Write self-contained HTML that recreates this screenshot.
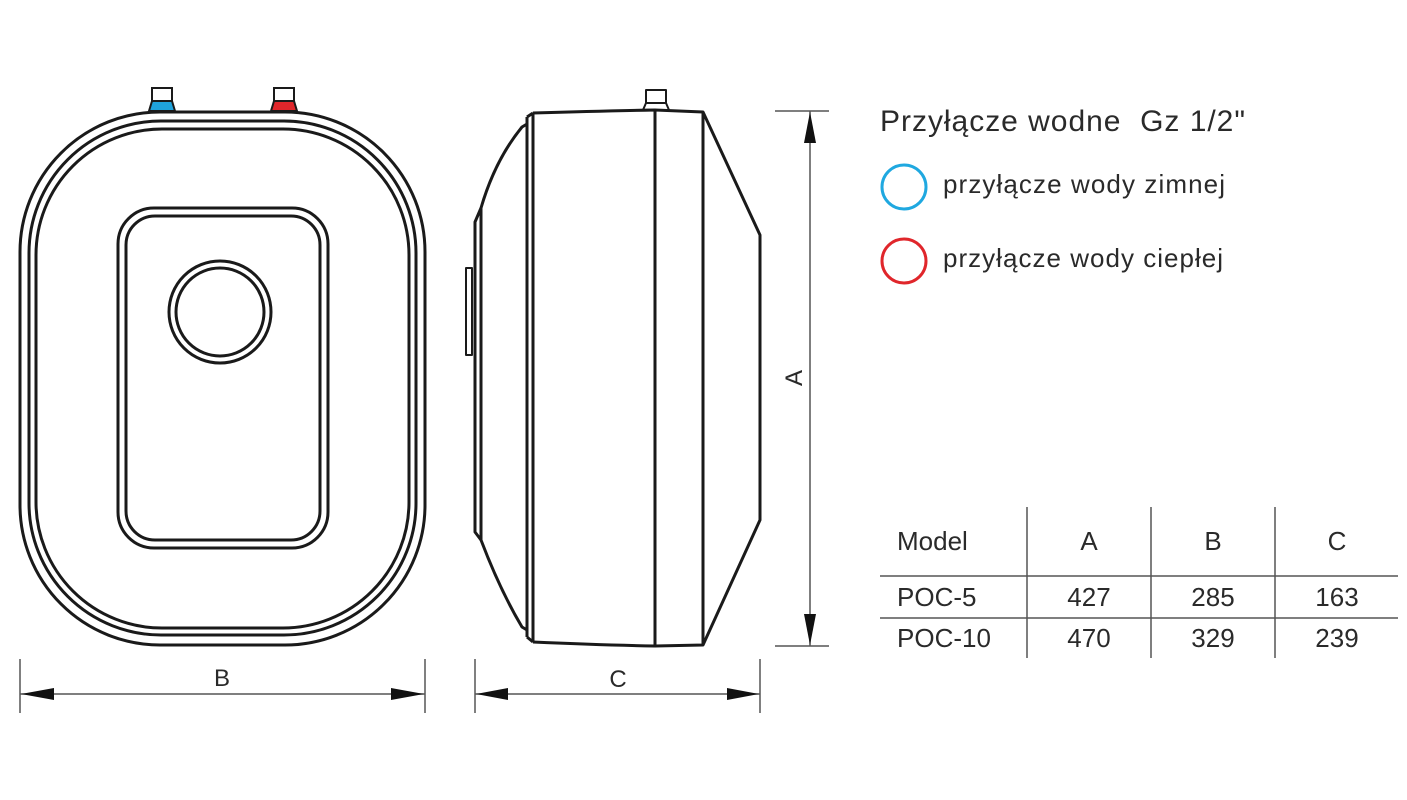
<!DOCTYPE html>
<html><head><meta charset="utf-8"><style>
html,body{margin:0;padding:0;background:#fff;}
svg{display:block;}
text{font-family:"Liberation Sans",sans-serif;fill:#2a2a2a;}
</style></head><body>
<svg width="1407" height="800" viewBox="0 0 1407 800" xmlns="http://www.w3.org/2000/svg">
<g fill="none" stroke="#1a1a1a" stroke-width="3">
  <rect x="20" y="112" width="405" height="533" rx="140" ry="140"/>
  <rect x="29" y="121" width="387" height="514" rx="132" ry="132"/>
  <rect x="36" y="129" width="373" height="499" rx="126" ry="126"/>
  <rect x="118" y="208" width="210" height="340" rx="36" ry="36"/>
  <rect x="126" y="216" width="194" height="324" rx="29" ry="29"/>
  <circle cx="220" cy="312" r="51"/>
  <circle cx="220" cy="312" r="44"/>
  <rect x="152" y="88" width="20" height="13" stroke-width="2"/>
  <rect x="274" y="88" width="20" height="13" stroke-width="2"/>
</g>
<path d="M149 111 L152 101 L172 101 L175 111 Z" fill="#1fa3dc" stroke="#1a1a1a" stroke-width="2"/>
<path d="M271 111 L274 101 L294 101 L297 111 Z" fill="#e0262b" stroke="#1a1a1a" stroke-width="2"/>

<g fill="none" stroke="#1a1a1a" stroke-width="3" stroke-linejoin="round">
  <rect x="646" y="90" width="20" height="13" stroke-width="2"/>
  <path d="M643 110 L646 103 L666 103 L669 110" stroke-width="2"/>
  <path d="M533 113 Q600 111 655 110 L703 112 L760 235 L760 520 L703 645 L655 646 Q600 645 533 642"/>
  <line x1="533" y1="113" x2="533" y2="642"/>
  <line x1="527" y1="117" x2="527" y2="637"/>
  <path d="M527 117 L533 113"/>
  <path d="M527 637 L533 642"/>
  <line x1="655" y1="110" x2="655" y2="646"/>
  <line x1="703" y1="112" x2="703" y2="645"/>
  <path d="M527 124 L522 127 Q495 160 481 208 L481 540 Q500 590 522 627 L527 630"/>
  <path d="M481 208 L475 222 L475 532 L481 540"/>
  <rect x="466" y="268" width="6" height="87" stroke-width="2"/>
</g>

<g stroke="#555" stroke-width="1.5" fill="none">
  <line x1="775" y1="111" x2="829" y2="111"/>
  <line x1="775" y1="646" x2="829" y2="646"/>
  <line x1="810" y1="111" x2="810" y2="646"/>
  <line x1="20" y1="659" x2="20" y2="713"/>
  <line x1="425" y1="659" x2="425" y2="713"/>
  <line x1="20" y1="694" x2="425" y2="694"/>
  <line x1="475" y1="659" x2="475" y2="713"/>
  <line x1="760" y1="659" x2="760" y2="713"/>
  <line x1="475" y1="694" x2="760" y2="694"/>
</g>
<g fill="#111">
  <path d="M810 112 L804 143 L816 143 Z"/>
  <path d="M810 645 L804 614 L816 614 Z"/>
  <path d="M21 694 L54 688 L54 700 Z"/>
  <path d="M424 694 L391 688 L391 700 Z"/>
  <path d="M476 694 L508 688 L508 700 Z"/>
  <path d="M759 694 L727 688 L727 700 Z"/>
</g>
<text x="222" y="686" font-size="24" text-anchor="middle">B</text>
<text x="618" y="687" font-size="24" text-anchor="middle">C</text>
<text x="802" y="378" font-size="24" text-anchor="middle" transform="rotate(-90 802 378)">A</text>

<text x="880" y="131" font-size="30" textLength="365" lengthAdjust="spacing" xml:space="preserve">Przyłącze wodne  Gz 1/2"</text>
<circle cx="904" cy="187" r="22" fill="none" stroke="#1fa8e0" stroke-width="3"/>
<circle cx="904" cy="261" r="22" fill="none" stroke="#e0262b" stroke-width="3"/>
<text x="943" y="193" font-size="26" textLength="282" lengthAdjust="spacing">przyłącze wody zimnej</text>
<text x="943" y="267" font-size="26" textLength="280" lengthAdjust="spacing">przyłącze wody ciepłej</text>

<g stroke="#555" stroke-width="1.5">
  <line x1="1027" y1="507" x2="1027" y2="658"/>
  <line x1="1151" y1="507" x2="1151" y2="658"/>
  <line x1="1275" y1="507" x2="1275" y2="658"/>
  <line x1="880" y1="576" x2="1398" y2="576"/>
  <line x1="880" y1="618" x2="1398" y2="618"/>
</g>
<g font-size="26">
  <text x="897" y="550">Model</text>
  <text x="1089" y="550" text-anchor="middle">A</text>
  <text x="1213" y="550" text-anchor="middle">B</text>
  <text x="1337" y="550" text-anchor="middle">C</text>
  <text x="897" y="606">POC-5</text>
  <text x="1089" y="606" text-anchor="middle">427</text>
  <text x="1213" y="606" text-anchor="middle">285</text>
  <text x="1337" y="606" text-anchor="middle">163</text>
  <text x="897" y="647">POC-10</text>
  <text x="1089" y="647" text-anchor="middle">470</text>
  <text x="1213" y="647" text-anchor="middle">329</text>
  <text x="1337" y="647" text-anchor="middle">239</text>
</g>
</svg>
</body></html>
